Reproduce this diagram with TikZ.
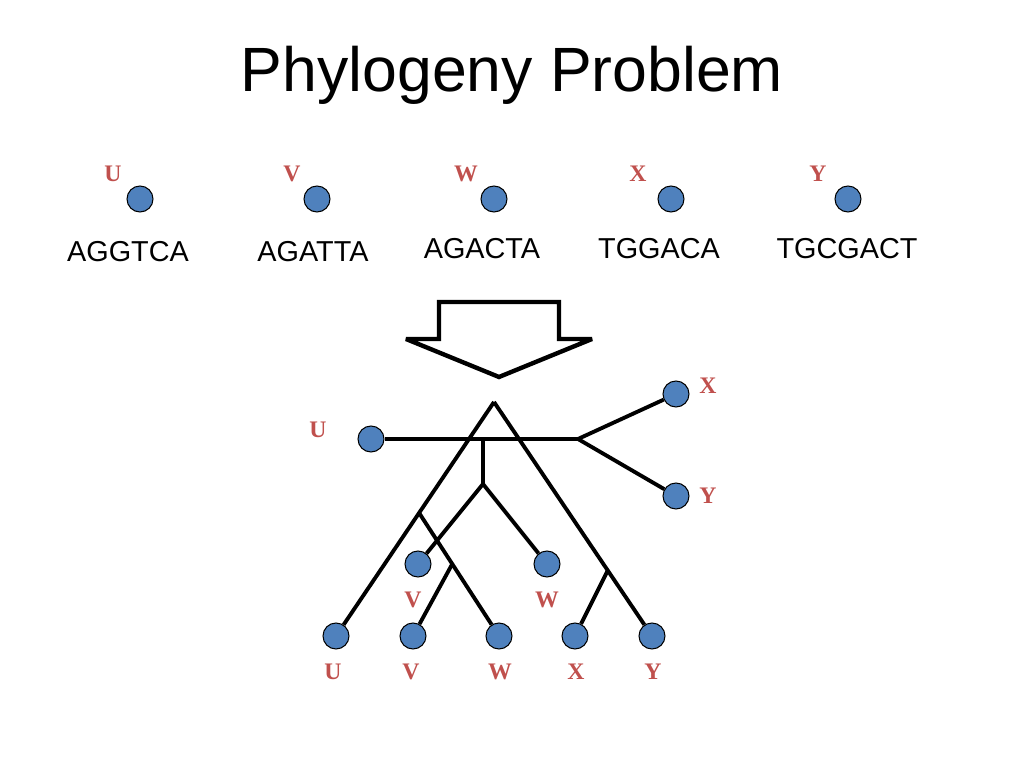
\documentclass[tikz,border=0pt]{standalone}
\usepackage{fontspec}
\setmainfont{Liberation Sans}
\newfontfamily\tagfont{Liberation Serif}
\usetikzlibrary{calc}

\definecolor{taxonblue}{RGB}{79,129,189}
\definecolor{taxonred}{RGB}{192,80,77}

\begin{document}
\begin{tikzpicture}[x=0.2mm, y=-0.2mm]
    \tikzstyle{taxon} = [circle, draw=black, fill=taxonblue, inner sep=0pt, minimum size=5.2mm, line width=0.6pt]
    \tikzstyle{tag} = [text=taxonred, font=\tagfont\bfseries\fontsize{13.5}{16}\selectfont, inner sep=0pt]
    \tikzstyle{seq} = [font=\fontsize{16.4}{19}\selectfont, inner sep=0pt, anchor=base]
    \tikzstyle{branch} = [line width=2.2pt]
    \useasboundingbox (0,0) rectangle (1024,768);

    \node (title) at (512,92) [anchor=base, font=\fontsize{35.6}{40}\selectfont] {Phylogeny Problem};

    % input taxa with sequences
    \foreach \name/\x/\lx/\sx/\sy/\seqtext in {U/140/113/128/262/AGGTCA, V/317/292/313/262/AGATTA,
        W/494/466/482/259/AGACTA, X/671/638/659/259/TGGACA, Y/848/818/847/259/TGCGACT} {
        \node (top\name) at (\x,199) [taxon] {};
        \node (toptag\name) at (\lx,174) [tag] {\name};
        \node (seq\name) at (\sx,\sy) [seq] {\seqtext};
    }

    % block arrow
    \draw[line width=2.5pt, miter limit=4] (439,302) -- (559,302) -- (559,339) -- (592,339)
        -- (499,377) -- (406,339) -- (439,339) -- cycle;

    % first tree (unrooted)
    \node (treeU) at (371,439) [taxon] {};
    \node (treeX) at (676,394) [taxon] {};
    \node (treeY) at (676,496) [taxon] {};
    \node (midV) at (418,564) [taxon] {};
    \node (midW) at (547,564) [taxon] {};
    \coordinate (fork) at (578,439);
    \coordinate (drop) at (483,439);
    \coordinate (split) at (483,484);
    \node[tag] (tagtreeU) at (318,430) {U};
    \node[tag] (tagtreeX) at (708,386) {X};
    \node[tag] (tagtreeY) at (708,496) {Y};
    \node[tag] (tagmidV) at (413,600) {V};
    \node[tag] (tagmidW) at (547,600) {W};

    % second tree (rooted)
    \coordinate (apex) at (494,402);
    \foreach \name/\x/\tx in {U/336/333, V/413/411, W/499/500, X/575/576, Y/652/653} {
        \node (bot\name) at (\x,636) [taxon] {};
        \node[tag] (tagbot\name) at (\tx,672) {\name};
    }
    \coordinate (leftjoin) at ($(apex)!0.474!(botU)$);
    \coordinate (rightjoin) at ($(apex)!0.72!(botY)$);
    \coordinate (innerjoin) at ($(leftjoin)!0.415!(botW)$);

    \draw[branch] (treeU) -- (fork);
    \draw[branch] (fork) -- (treeX);
    \draw[branch] (fork) -- (treeY);
    \draw[branch] (drop) -- (split);
    \draw[branch] (split) -- (midV);
    \draw[branch] (split) -- (midW);
    \draw[branch] (apex) -- (botU);
    \draw[branch] (apex) -- (botY);
    \draw[branch] (leftjoin) -- (botW);
    \draw[branch] (innerjoin) -- (botV);
    \draw[branch] (rightjoin) -- (botX);
\end{tikzpicture}
\end{document}
